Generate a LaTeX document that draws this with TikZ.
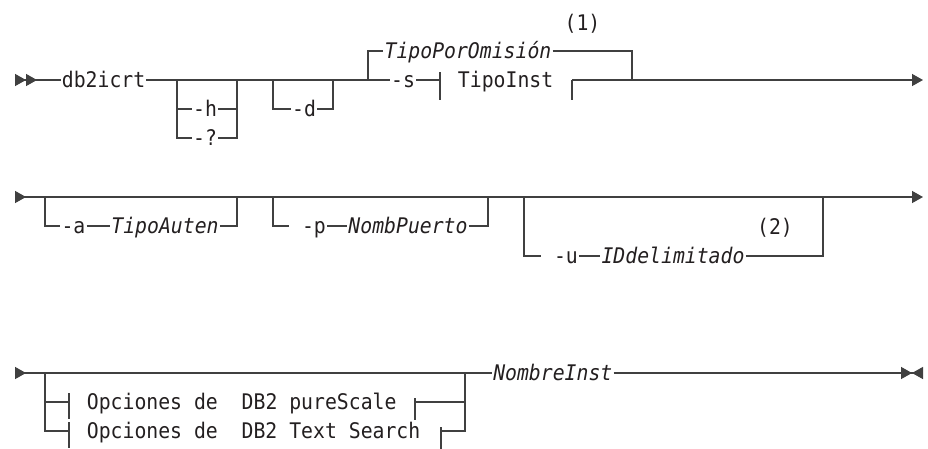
\documentclass[tikz,border=0pt]{standalone}
\usepackage{fontspec}
\usepackage{tikz}
\usetikzlibrary{arrows.meta}
\newfontfamily\railfont[FakeStretch=0.92,ItalicFont={DejaVu Sans Mono Oblique}]{DejaVu Sans Mono}
\newcommand\railsize{\fontsize{21.5}{24}\selectfont}
\definecolor{railline}{RGB}{64,64,64}
\definecolor{railtext}{RGB}{35,31,32}

\begin{document}
\begin{tikzpicture}[
  x=1pt, y=-1pt,
  rr/.tip={Triangle[length=11pt,width=12pt]},
  rail/.style={line width=1.4pt, draw=railline},
  bit/.style={font=\railfont\railsize, text=railtext, inner xsep=1pt, inner ysep=0pt, text height=17pt, text depth=3pt},
  varbit/.style={bit, font=\railfont\railsize\itshape}
]
\useasboundingbox (0,0) rectangle (928,448);

% first line: db2icrt, -h/-?, -d, -s TipoInst
\coordinate (r1s) at (15,80);
\coordinate (r1e) at (923,80);
\node[bit] (db) at (103.6,80) {db2icrt};
\coordinate (hL) at (177,80);
\coordinate (hR) at (237,80);
\node[bit] (hh) at (205,109) {-h};
\node[bit] (qq) at (205,138) {-?};
\coordinate (dL) at (273,80);
\coordinate (dR) at (333,80);
\node[bit] (dd) at (304,109) {-d};
\coordinate (tL) at (368,80);
\coordinate (tR) at (632,80);
\node[varbit] (tdef) at (468,51) {TipoPorOmisión};
\node[bit] (s) at (403,80) {-s};
\coordinate (b1) at (440,80);
\coordinate (b2) at (572,80);
\node[bit] (tinst) at (505.6,80) {TipoInst};
\node[bit] (n1) at (582.5,23) {(1)};

\draw[rail, {rr[reversed]rr[reversed]}-] (r1s) -- (db.west);
\draw[rail] (db.east) -- (s.west);
\draw[rail] (hL) |- (hh.west) (hh.east) -| (hR);
\draw[rail] (hL) |- (qq.west) (qq.east) -| (hR);
\draw[rail] (dL) |- (dd.west) (dd.east) -| (dR);
\draw[rail] (tL) |- (tdef.west) (tdef.east) -| (tR);
\draw[rail] (s.east) -- (b1) ++(0,-8) -- ++(0,28);
\draw[rail] (b2) -- ++(0,20);
\draw[rail, -rr] (b2) -- (r1e);

% second line: -a, -p, -u
\coordinate (r2s) at (15,197);
\coordinate (r2e) at (923,197);
\coordinate (aL) at (45,197);
\coordinate (aR) at (237,197);
\node[bit] (a) at (73.5,226) {-a};
\node[varbit] (ta) at (165,226) {TipoAuten};
\coordinate (pL) at (273,197);
\coordinate (pR) at (488,197);
\node[bit] (p) at (308,226) {\ -p};
\node[varbit] (tp) at (408,226) {NombPuerto};
\coordinate (uL) at (524,197);
\coordinate (uR) at (823,197);
\node[bit] (u) at (560,256) {\ -u};
\node[varbit] (tu) at (673,256) {IDdelimitado};
\node[bit] (n2) at (775,227) {(2)};

\draw[rail, {rr[reversed]}-rr] (r2s) -- (r2e);
\draw[rail] (aL) |- (a.west) (a.east) -- (ta.west) (ta.east) -| (aR);
\draw[rail] (pL) |- (p.west) (p.east) -- (tp.west) (tp.east) -| (pR);
\draw[rail] (uL) |- (u.west) (u.east) -- (tu.west) (tu.east) -| (uR);

% third line: options, NombreInst
\coordinate (r3s) at (15,373);
\coordinate (r3e) at (923,373);
\coordinate (oL) at (45,373);
\coordinate (oR) at (465,373);
\coordinate (c1l) at (69,402);
\coordinate (c1r) at (415,402);
\coordinate (c2l) at (69,431);
\coordinate (c2r) at (441,431);
\node[bit] (o1) at (241.7,402) {Opciones de\ \ DB2 pureScale};
\node[bit] (o2) at (253.6,431) {Opciones de\ \ DB2 Text Search};
\node[varbit] (ni) at (552.8,373) {NombreInst};

\draw[rail, {rr[reversed]}-] (r3s) -- (ni.west);
\draw[rail, -{rr[]rr[reversed]}] (ni.east) -- (r3e);
\draw[rail] (oL) |- (c1l) ++(0,-9) -- ++(0,26);
\draw[rail] (oL) |- (c2l) ++(0,-9) -- ++(0,26);
\draw[rail] (c1r) -| (oR);
\draw[rail] (c1r) ++(0,-4) -- ++(0,22);
\draw[rail] (c2r) -| (oR);
\draw[rail] (c2r) ++(0,-4) -- ++(0,22);
\end{tikzpicture}
\end{document}
